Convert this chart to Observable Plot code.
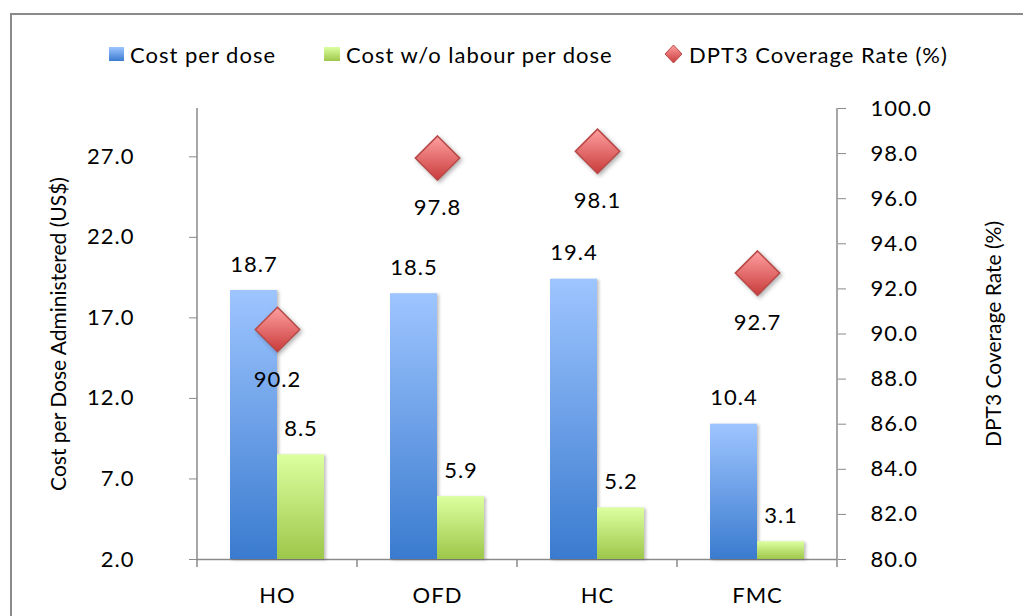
<!DOCTYPE html>
<html>
<head>
<meta charset="utf-8">
<script src="https://cdn.jsdelivr.net/npm/d3@7"></script>
<script src="https://cdn.jsdelivr.net/npm/@observablehq/plot@0.6"></script>
<style>
  html, body { margin: 0; padding: 0; background: #fff; }
  body { width: 1023px; height: 616px; position: relative; overflow: hidden; font-family: Lato, "Open Sans", sans-serif; }
  #frame { position: absolute; left: 10px; top: 13px; width: 1100px; height: 700px; border: 2px solid #8a8a8a; box-sizing: border-box; }
  #chart { position: absolute; left: 0; top: 0; }
  #chart svg text { letter-spacing: 1px; }
  #chart svg g[aria-label="y-axis label"] text { letter-spacing: 0; }
  .legend-item { position: absolute; top: 40px; height: 28px; display: flex; align-items: center; font-size: 22px; letter-spacing: 1px; color: #000; white-space: nowrap; }
  .legend-item svg { margin-right: 6px; }
  g[aria-label="bar"] rect { filter: drop-shadow(2px 1px 1.5px rgba(0,0,0,0.25)); }
  g[aria-label="dot"] path { filter: drop-shadow(2px 2px 2px rgba(0,0,0,0.3)); }
</style>
</head>
<body>
<svg width="0" height="0" style="position:absolute">
  <defs>
    <linearGradient id="gBlue" x1="0" y1="0" x2="0" y2="1">
      <stop offset="0" stop-color="#9ec5ff"/>
      <stop offset="1" stop-color="#3a7bcf"/>
    </linearGradient>
    <linearGradient id="gGreen" x1="0" y1="0" x2="0" y2="1">
      <stop offset="0" stop-color="#ddffa0"/>
      <stop offset="1" stop-color="#9dc74a"/>
    </linearGradient>
    <linearGradient id="gRed" x1="0" y1="0" x2="0" y2="1">
      <stop offset="0" stop-color="#ffa0a0"/>
      <stop offset="1" stop-color="#c93b3b"/>
    </linearGradient>
  </defs>
</svg>
<div id="frame"></div>
<div id="chart"></div>
<div class="legend-item" style="left:109px"><svg width="15" height="14"><rect width="15" height="14" fill="url(#gBlue)"/></svg>Cost per dose</div>
<div class="legend-item" style="left:324px"><svg width="16" height="14"><rect width="16" height="14" fill="url(#gGreen)"/></svg>Cost w/o labour per dose</div>
<div class="legend-item" style="left:664px"><svg width="19" height="20"><polygon points="9.5,1 18,10 9.5,19 1,10" fill="url(#gRed)" stroke="#b84a48" stroke-width="1"/></svg>DPT3 Coverage Rate (%)</div>
<script>
const categories = ["HO", "OFD", "HC", "FMC"];
const seriesNames = ["Cost per dose", "Cost w/o labour per dose", "DPT3 Coverage Rate (%)"];
const costPerDose = [18.7, 18.5, 19.4, 10.4];
const costNoLabour = [8.5, 5.9, 5.2, 3.1];
const dpt3Coverage = [90.2, 97.8, 98.1, 92.7];
const leftTicks = [2, 7, 12, 17, 22, 27];
const rightTicks = [80, 82, 84, 86, 88, 90, 92, 94, 96, 98, 100];
const leftDomain = [2, 30];
const rightDomain = [80, 100];

// map right-axis values onto the left (cost) scale
const toLeft = v => leftDomain[0] + (v - rightDomain[0]) * (leftDomain[1] - leftDomain[0]) / (rightDomain[1] - rightDomain[0]);
const toRight = v => rightDomain[0] + (v - leftDomain[0]) * (rightDomain[1] - rightDomain[0]) / (leftDomain[1] - leftDomain[0]);

const bars = categories.flatMap((c, i) => [
  {cat: c, series: seriesNames[0], value: costPerDose[i]},
  {cat: c, series: seriesNames[1], value: costNoLabour[i]}
]);
const coverage = categories.map((c, i) => ({cat: c, value: dpt3Coverage[i]}));

const FONT = 22;
const chart = Plot.plot({
  width: 1023,
  height: 616,
  marginLeft: 197,
  marginRight: 186,
  marginTop: 108,
  marginBottom: 57,
  style: {fontFamily: "Lato, 'Open Sans', sans-serif", fontSize: FONT + "px", color: "#000", background: "transparent", overflow: "visible"},
  fx: {domain: categories, padding: 0, round: false, axis: null, label: null},
  x: {domain: seriesNames.slice(0, 2), paddingInner: 0, paddingOuter: 0.702, round: false, axis: null, label: null},
  y: {domain: leftDomain, axis: null, label: null},
  marks: [
    Plot.ruleY([leftDomain[0]], {stroke: "#8a8a8a", strokeWidth: 1.5}),
    Plot.barY(bars, {filter: d => d.series === seriesNames[0], fx: "cat", x: "series", y1: leftDomain[0], y2: "value", fill: "url(#gBlue)"}),
    Plot.barY(bars, {filter: d => d.series === seriesNames[1], fx: "cat", x: "series", y1: leftDomain[0], y2: "value", fill: "url(#gGreen)"}),
    Plot.text(bars, {fx: "cat", x: "series", y: "value", text: d => d.value.toFixed(1), dy: -26, fontSize: FONT, fill: "#000"}),
    Plot.dot(coverage, {fx: "cat", y: d => toLeft(d.value), symbol: "diamond2", r: 20, fill: "url(#gRed)", stroke: "#b84a48", strokeWidth: 1.5, frameAnchor: "middle"}),
    Plot.text(coverage, {fx: "cat", y: d => toLeft(d.value), text: d => d.value.toFixed(1), dy: 50, frameAnchor: "middle", fontSize: FONT, fill: "#000"}),
    Plot.axisY({anchor: "left", ticks: leftTicks, tickFormat: d => d.toFixed(1), tickSize: 8, tickPadding: 55, stroke: "#8a8a8a", fill: "#000", fontSize: FONT,
      label: null}),
    Plot.axisY({anchor: "left", ticks: [], tickSize: 0, fill: "#000", fontSize: 21,
      label: "Cost per Dose Administered (US$)", labelAnchor: "center", labelArrow: "none", labelOffset: 146}),
    Plot.axisY({anchor: "right", ticks: rightTicks.map(toLeft), tickFormat: d => toRight(d).toFixed(1), tickSize: 8, tickPadding: 25, stroke: "#8a8a8a", fill: "#000", fontSize: FONT,
      label: null}),
    Plot.axisY({anchor: "right", ticks: [], tickSize: 0, fill: "#000", fontSize: 21,
      label: "DPT3 Coverage Rate (%)", labelAnchor: "center", labelArrow: "none", labelOffset: 163}),
    Plot.axisFx({anchor: "bottom", tickSize: 0, tickPadding: 28, fontSize: FONT, fill: "#000", label: null})
  ]
});
document.getElementById("chart").appendChild(chart);

// axis domain lines and category separator ticks, placed via the plot's own scales
const fx = chart.scale("fx"), y = chart.scale("y");
const x0 = fx.apply(categories[0]);
const step = fx.step;
const yBottom = y.apply(leftDomain[0]), yTop = y.apply(leftDomain[1]);
const g = d3.select(chart).append("g").attr("stroke", "#8a8a8a").attr("stroke-width", 1.5);
g.append("line").attr("x1", x0).attr("x2", x0).attr("y1", yTop).attr("y2", yBottom);
g.append("line").attr("x1", x0 + step * categories.length).attr("x2", x0 + step * categories.length).attr("y1", yTop).attr("y2", yBottom);
d3.range(categories.length + 1).forEach(i => {
  g.append("line").attr("x1", x0 + i * step).attr("x2", x0 + i * step).attr("y1", yBottom).attr("y2", yBottom + 8);
});
</script>
</body>
</html>
